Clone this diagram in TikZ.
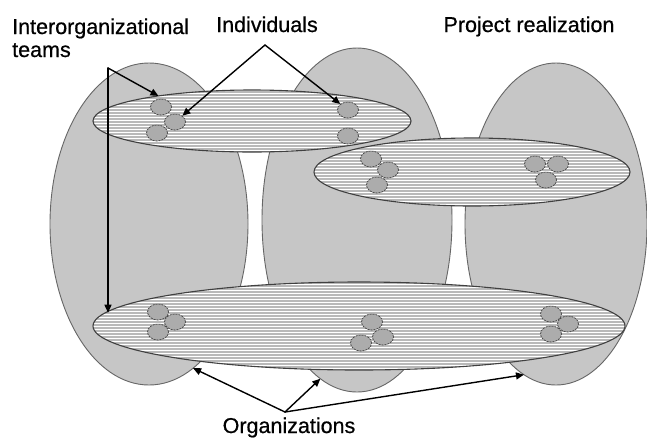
\documentclass[tikz,border=0pt]{standalone}
\usepackage{fontspec}
\setmainfont{Liberation Sans}[FakeBold=0.6]
\usetikzlibrary{shapes.geometric,arrows.meta}
\begin{document}
\begin{tikzpicture}[x=1pt,y=-1pt,
  org/.style={ellipse, draw=black!60, line width=0.9pt, fill=gray!45,
    inner sep=0pt, outer sep=0pt},
  team/.style={ellipse, draw=black!75, line width=1.1pt, fill=white,
    inner sep=0pt, outer sep=0pt,
    path picture={
      \foreach \k in {0,3,...,120}
        \draw[gray!55, line width=1.3pt]
          ([yshift=\k pt]path picture bounding box.south west) --
          ([yshift=\k pt]path picture bounding box.south east);
    }},
  person/.style={ellipse, draw=black!70, dash pattern=on 2pt off 1pt,
    line width=0.8pt, fill=gray!65, minimum width=21pt, minimum height=16pt,
    inner sep=0pt, outer sep=0.5pt},
  caption/.style={font=\fontsize{21.5}{23}\selectfont, inner sep=0pt},
  pointer/.style={-{Triangle[length=8pt,width=7pt]}, line width=1.4pt,
    line cap=round, black}
]
\useasboundingbox (0,0) rectangle (647,440);
\fill[white] (0,0) rectangle (647,440);

% organizations
\node[org, minimum width=198pt, minimum height=322pt] (orgA) at (149,224) {};
\node[org, minimum width=190pt, minimum height=344pt] (orgB) at (357,220) {};
\node[org, minimum width=182pt, minimum height=322pt] (orgC) at (556,224) {};

% interorganizational teams
\node[team, minimum width=318pt, minimum height=62pt] (teamA) at (252,121) {};
\node[team, minimum width=316pt, minimum height=68pt] (teamB) at (472,172) {};
\node[team, minimum width=532pt, minimum height=88pt] (teamC) at (359,326) {};

% individuals
\node[person] (pA1) at (161,107) {};
\node[person] (pA2) at (175,122) {};
\node[person] (pA3) at (157,133) {};
\node[person] (pA4) at (348,110) {};
\node[person] (pA5) at (348,136) {};

\node[person] (pB1) at (371,159) {};
\node[person] (pB2) at (388,170) {};
\node[person] (pB3) at (377,185) {};
\node[person] (pB4) at (535,164) {};
\node[person] (pB5) at (558,164) {};
\node[person] (pB6) at (546,180) {};

\node[person] (pC1) at (158,312) {};
\node[person] (pC2) at (175,322) {};
\node[person] (pC3) at (158,332) {};
\node[person] (pC4) at (372,322) {};
\node[person] (pC5) at (383,337) {};
\node[person] (pC6) at (361,343) {};
\node[person] (pC7) at (551,314) {};
\node[person] (pC8) at (568,324) {};
\node[person] (pC9) at (551,334) {};

% captions
\node[caption, anchor=base west, align=left] (teamsText) at (12,57)
  {Interorganizational\\teams};
\node[caption, anchor=base] (indText) at (267,32) {Individuals};
\node[caption, anchor=base] (projText) at (529,32) {Project realization};
\node[caption, anchor=base] (orgText) at (289,433) {Organizations};

% pointers
\coordinate (teamcorner) at (108,68);
\coordinate (indapex) at (265,45);
\coordinate (orgapex) at (285,412);

\draw[pointer] (teamcorner) -- (teamA.165);
\draw[pointer] (teamcorner) -- (teamcorner |- teamC.177);
\draw[pointer] (indapex) -- (pA2);
\draw[pointer] (indapex) -- (pA4);
\draw[pointer] (orgapex) -- (orgA.-73);
\draw[pointer] (orgapex) -- (orgB.-103);
\draw[pointer] (orgapex) -- (orgC.-102);
\end{tikzpicture}
\end{document}
